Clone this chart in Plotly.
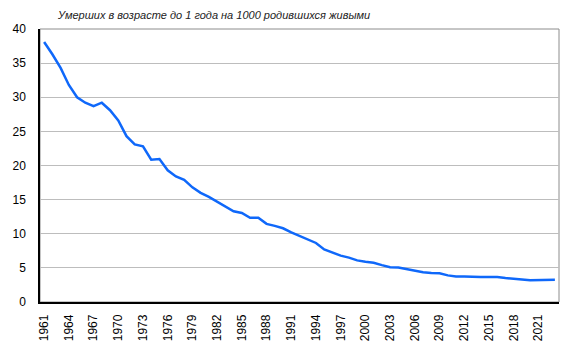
import plotly.graph_objects as go

years = list(range(1961, 2024))
infant_mortality = [
    38.1, 36.3, 34.3, 31.8, 30.0, 29.2, 28.7, 29.2, 28.1, 26.6,
    24.3, 23.1, 22.8, 20.85, 20.95, 19.3, 18.4, 17.9, 16.8, 16.0,
    15.4, 14.7, 14.0, 13.3, 13.05, 12.35, 12.35, 11.45, 11.15, 10.8,
    10.2, 9.65, 9.2, 8.65, 7.7, 7.2, 6.8, 6.5, 6.1, 5.9,
    5.75, 5.4, 5.1, 5.05, 4.8, 4.5, 4.35, 4.25, 4.2, 3.9,
    3.75, 3.75, 3.65, 3.65, 3.65, 3.65, 3.5, 3.35, 3.3, 3.2,
    3.25, 3.25, 3.25,
]
tick_years = list(range(1961, 2022, 3))
tick_labels = [str(y) for y in tick_years]
y_ticks = [0, 5, 10, 15, 20, 25, 30, 35, 40]
title_text = "Умерших в возрасте до 1 года на 1000 родившихся живыми"

fig = go.Figure()
fig.add_trace(go.Scatter(
    x=years, y=infant_mortality, mode="lines",
    line=dict(color="#0f68fa", width=2.5),
    hoverinfo="x+y", showlegend=False,
))

fig.update_layout(
    width=574, height=357,
    margin=dict(l=39.5, r=15, t=29, b=55, autoexpand=False),
    paper_bgcolor="white", plot_bgcolor="white",
    font=dict(family="Liberation Sans, Arial, sans-serif", size=12, color="black"),
    title=dict(text=title_text, x=58 / 574, xanchor="left", y=1 - 15.5 / 357, yanchor="middle",
               automargin=False,
               font=dict(family="Liberation Sans, Arial, sans-serif", size=11, color="#222222",
                         style="italic")),
    shapes=[dict(type="rect", xref="paper", yref="paper", x0=0, x1=1, y0=0, y1=1,
                 line=dict(color="#8c8c8c", width=1), layer="below")],
)
fig.update_xaxes(
    range=[1960.5, 2023.5], tickvals=tick_years, ticktext=tick_labels, automargin=False,
    tickangle=-90, showgrid=False, showline=True, linecolor="black", linewidth=1.5,
    ticks="", ticklabelstandoff=6, zeroline=False, tickfont=dict(size=12),
)
fig.update_yaxes(
    range=[0, 40], tickvals=y_ticks, showgrid=True, gridcolor="#bdbdbd", gridwidth=1,
    automargin=False,
    showline=True, linecolor="black", linewidth=1.5, ticks="", ticklabelstandoff=10,
    zeroline=False, tickfont=dict(size=12),
)

fig.write_html(
    "out.html",
    config={"displayModeBar": False},
    post_script="document.body.style.margin='0';document.body.style.overflow='hidden';",
)
